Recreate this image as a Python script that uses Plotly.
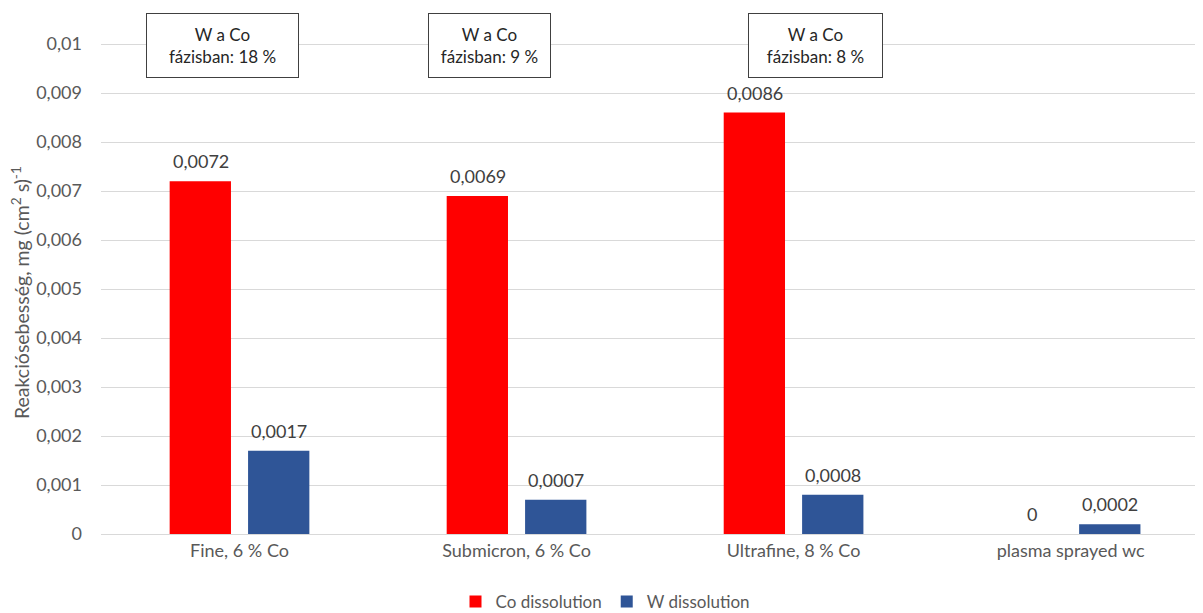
import plotly.graph_objects as go

categories = ["Fine, 6 % Co", "Submicron, 6 % Co", "Ultrafine, 8 % Co", "plasma sprayed wc"]
co_dissolution = [0.0072, 0.0069, 0.0086, 0]
w_dissolution = [0.0017, 0.0007, 0.0008, 0.0002]
box_labels = ["W a Co<br>fázisban: 18 %", "W a Co<br>fázisban: 9 %", "W a Co<br>fázisban: 8 %"]
box_shifts = [-17, -27, 22]
box_widths = [139, 109, 121]

FONT = "Lato"
GREY = "#595959"
FS = 18
BAR_SHIFT = 39  # half of a bar slot (px) -> label offset from group centre

# the page adds an 8px body margin, so the figure is sized to fit the window
W, H = 1195, 605


def fmt(v):
    return f"{v:g}".replace(".", ",")


fig = go.Figure()
fig.add_trace(go.Bar(
    x=categories, y=co_dissolution, name="Co dissolution",
    marker=dict(color="#FF0000", line=dict(width=0)),
))
fig.add_trace(go.Bar(
    x=categories, y=w_dissolution, name="W dissolution",
    marker=dict(color="#2F5597", line=dict(width=0)),
))

# value labels above the bars
for series, side in [(co_dissolution, -1), (w_dissolution, 1)]:
    for cat, v in zip(categories, series):
        fig.add_annotation(
            x=cat, y=v, xref="x", yref="y", text=fmt(v), showarrow=False,
            xshift=side * BAR_SHIFT, yanchor="bottom", yshift=7,
            font=dict(family=FONT, size=FS, color="#404040"),
        )

for cat, label, shift, w in zip(categories, box_labels, box_shifts, box_widths):
    fig.add_annotation(
        x=cat, y=0.01, xref="x", yref="y", text=label, showarrow=False,
        xshift=shift, yshift=-1, width=w, height=51,
        font=dict(family=FONT, size=17, color="#262626"),
        bordercolor="#404040", borderwidth=1, borderpad=6, bgcolor="white",
        align="center", valign="middle",
    )

fig.add_annotation(
    text="Reakciósebesség, mg (cm<sup>2</sup> s)<sup>-1</sup>", textangle=-90,
    xref="paper", yref="paper", x=0, y=0.458, xshift=-81, showarrow=False,
    xanchor="center", yanchor="middle",
    font=dict(family=FONT, size=19.5, color=GREY),
)

fig.update_layout(
    width=W, height=H,
    margin=dict(l=93, r=0, t=0, b=79, autoexpand=False),
    plot_bgcolor="white", paper_bgcolor="white",
    separators=",.",
    barmode="group", bargap=0.434, bargroupgap=0.218,
    font=dict(family=FONT, size=FS, color=GREY),
    showlegend=True,
    legend=dict(orientation="h", xref="container", yref="paper",
                x=0.5, xanchor="center", y=-0.129, yanchor="middle",
                font=dict(size=17, color=GREY), itemwidth=30),
)
fig.update_xaxes(range=[-0.5, 3.478], showgrid=False, showline=True,
                 linecolor="#D9D9D9", linewidth=1,
                 ticks="", tickfont=dict(size=FS, color=GREY))
fig.update_yaxes(range=[0, 0.010735], dtick=0.001, showgrid=True, gridcolor="#D9D9D9",
                 zeroline=False, showline=False, ticks="", ticklabelstandoff=18,
                 tickfont=dict(size=FS, color=GREY))

fig.write_html("out.html")
